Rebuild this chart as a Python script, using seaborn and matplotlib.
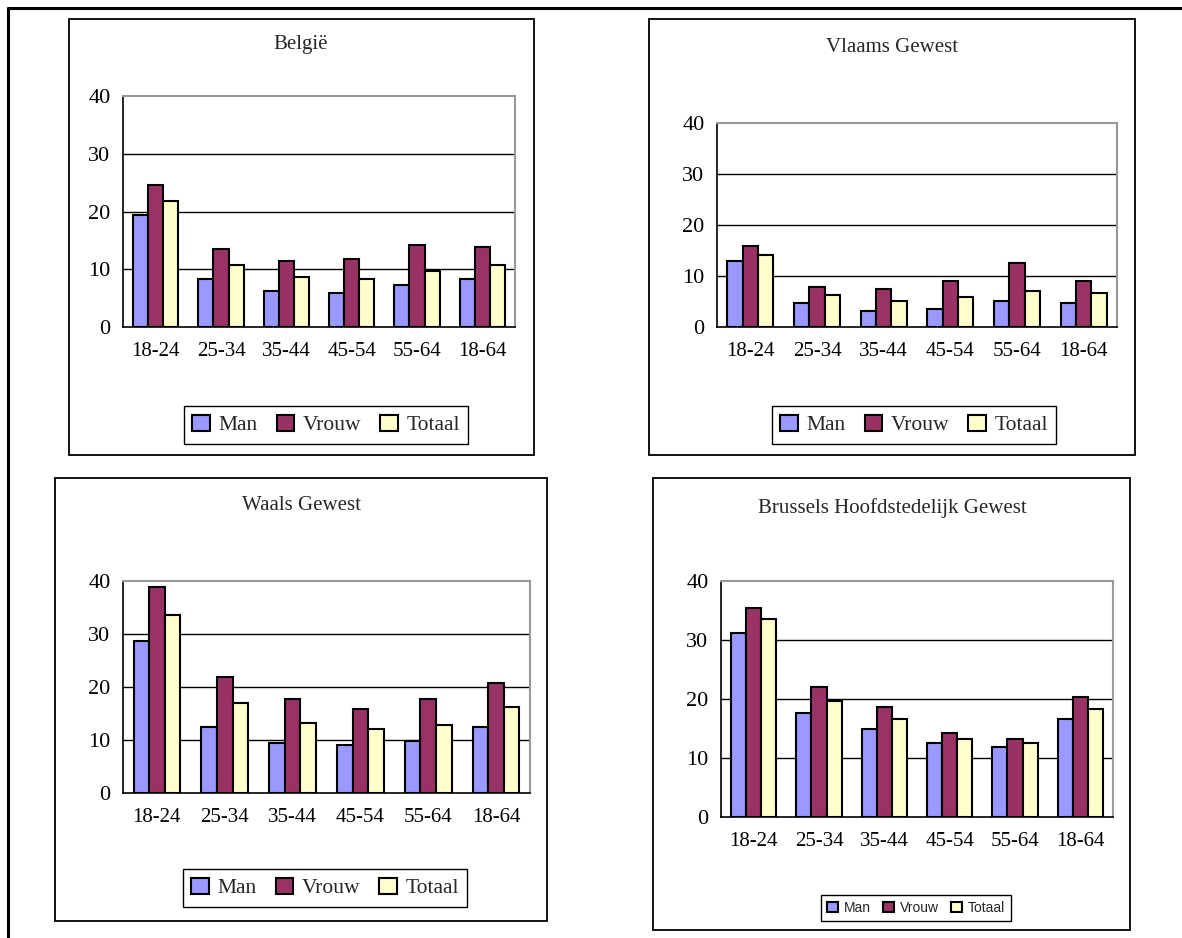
import pandas as pd
import matplotlib
matplotlib.use("Agg")
import matplotlib.pyplot as plt
from matplotlib.patches import Rectangle
from matplotlib.lines import Line2D
import seaborn as sns

# Data (percent)
age_groups = ["18-24", "25-34", "35-44", "45-54", "55-64", "18-64"]
series_names = ["Man", "Vrouw", "Totaal"]

belgie_man = [19.4, 8.3, 6.2, 5.9, 7.2, 8.3]
belgie_vrouw = [24.6, 13.5, 11.4, 11.7, 14.2, 13.8]
belgie_totaal = [21.8, 10.7, 8.6, 8.3, 9.7, 10.7]

vlaams_man = [13.0, 4.8, 3.2, 3.5, 5.1, 4.8]
vlaams_vrouw = [15.8, 7.9, 7.5, 9.0, 12.6, 9.0]
vlaams_totaal = [14.2, 6.3, 5.1, 5.9, 7.1, 6.7]

waals_man = [28.7, 12.5, 9.5, 9.1, 9.8, 12.5]
waals_vrouw = [38.9, 21.8, 17.8, 15.8, 17.8, 20.7]
waals_totaal = [33.6, 16.9, 13.2, 12.1, 12.8, 16.3]

brussel_man = [31.2, 17.7, 15.0, 12.6, 11.9, 16.6]
brussel_vrouw = [35.5, 22.1, 18.7, 14.3, 13.3, 20.4]
brussel_totaal = [33.5, 19.7, 16.6, 13.3, 12.6, 18.3]

titles = ["België", "Vlaams Gewest", "Waals Gewest", "Brussels Hoofdstedelijk Gewest"]

palette = {"Man": "#9999FF", "Vrouw": "#993366", "Totaal": "#FFFFCC"}


def long_frame(man, vrouw, totaal):
    rows = []
    for name, vals in zip(series_names, [man, vrouw, totaal]):
        for age, v in zip(age_groups, vals):
            rows.append({"Leeftijd": age, "Geslacht": name, "Waarde": v})
    return pd.DataFrame(rows)


frames = [
    long_frame(belgie_man, belgie_vrouw, belgie_totaal),
    long_frame(vlaams_man, vlaams_vrouw, vlaams_totaal),
    long_frame(waals_man, waals_vrouw, waals_totaal),
    long_frame(brussel_man, brussel_vrouw, brussel_totaal),
]

sns.set_style("white")
plt.rcParams["font.family"] = ["Liberation Serif", "DejaVu Serif"]

W, H = 1182, 938
fig = plt.figure(figsize=(W / 100, H / 100), dpi=100)


def fx(px):
    return px / W


def fy(py):
    return 1 - py / H


# outer frame (top and left edges visible)
fig.add_artist(Line2D([fx(8), 1.0], [fy(8), fy(8)], color="black", lw=2.2, transform=fig.transFigure))
fig.add_artist(Line2D([fx(8), fx(8)], [fy(8), 0.0], color="black", lw=2.2, transform=fig.transFigure))

# panel boxes: (left, top, right, bottom) in pixels
boxes = [(69, 19, 534, 455), (649, 19, 1135, 455), (55, 478, 547, 921), (653, 478, 1130, 930)]
# plot areas
areas = [(123, 96, 515, 327), (717, 123, 1117, 327), (123, 581, 530, 793), (721, 581, 1113, 817)]
title_pos = [(301, 45), (892, 48), (301, 505), (892, 508)]
legend_pos = [(326, 425), (914, 425), (325, 888), (916, 908)]

for i in range(4):
    l, t, r, b = boxes[i]
    fig.add_artist(Rectangle((fx(l), fy(b)), fx(r - l), (b - t) / H, fill=False,
                             edgecolor="black", lw=1.3, transform=fig.transFigure))

    l, t, r, b = areas[i]
    ax = fig.add_axes([fx(l), fy(b), fx(r - l), (b - t) / H])
    sns.barplot(data=frames[i], x="Leeftijd", y="Waarde", hue="Geslacht",
                palette=palette, width=0.69, edgecolor="black", linewidth=1.5,
                saturation=1, ax=ax, legend=True, zorder=3)
    ax.set_xlabel("")
    ax.set_ylabel("")
    ax.set_xlim(-0.5, 5.5)
    ax.set_ylim(0, 40)
    ax.set_yticks([0, 10, 20, 30, 40])
    for yv in [10, 20, 30]:
        ax.axhline(yv, color="black", lw=1, zorder=1)
    ax.set_xticks([i2 - 0.5 for i2 in range(7)], minor=True)
    ax.tick_params(axis="x", which="major", length=0, pad=11, labelsize=15)
    ax.tick_params(axis="x", which="minor", length=5, width=1, direction="out", color="black")
    ax.tick_params(axis="y", length=5, width=1, direction="out", color="black", labelsize=16, pad=4)
    ax.tick_params(axis="both", colors="black")
    for s in ["left", "bottom"]:
        ax.spines[s].set_color("black")
        ax.spines[s].set_linewidth(1.2)
    for s in ["top", "right"]:
        ax.spines[s].set_color("#999999")
        ax.spines[s].set_linewidth(1.5)
    ax.set_facecolor("white")

    tx, ty = title_pos[i]
    fig.text(fx(tx), fy(ty), titles[i], ha="center", va="center", fontsize=15)

    lx, ly = legend_pos[i]
    if i == 3:
        lprops = dict(family=["Liberation Sans", "DejaVu Sans"], size=10)
    else:
        lprops = dict(family=["Liberation Serif", "DejaVu Serif"], size=15.5)
    sns.move_legend(ax, loc="center", bbox_to_anchor=(fx(lx), fy(ly)),
                    bbox_transform=fig.transFigure, ncol=3, title=None,
                    frameon=True, fancybox=False, edgecolor="black",
                    prop=lprops, handlelength=0.8, handleheight=0.8,
                    columnspacing=0.9, handletextpad=0.4, borderpad=0.4,
                    framealpha=1)
    ax.get_legend().get_frame().set_linewidth(1.0)

fig.savefig("out.png", dpi=100, facecolor="white")
